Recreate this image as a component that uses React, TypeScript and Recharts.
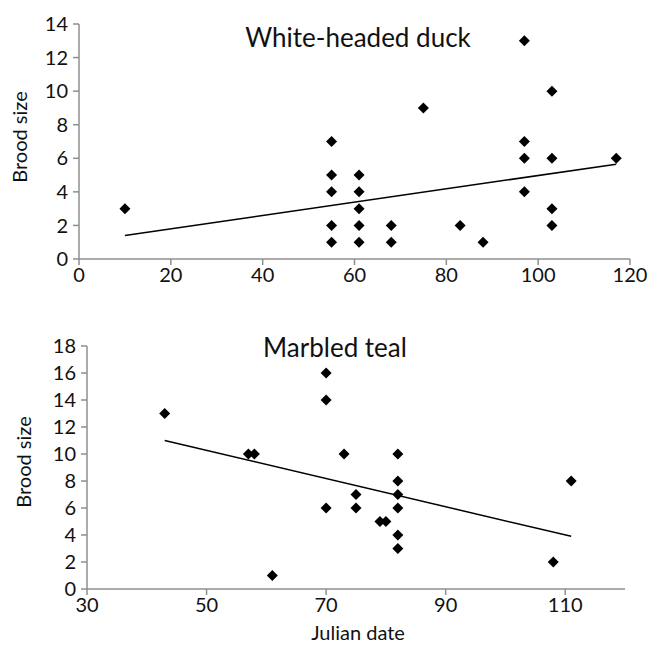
import { ScatterChart, Scatter, XAxis, YAxis } from "recharts";

// White-headed duck: julian date vs brood size
const duckDates = [10, 55, 55, 55, 55, 55, 61, 61, 61, 61, 61, 68, 68, 75, 83, 88, 97, 97, 97, 97, 103, 103, 103, 103, 117];
const duckBrood = [3, 7, 5, 4, 2, 1, 5, 4, 3, 2, 1, 2, 1, 9, 2, 1, 13, 7, 6, 4, 10, 6, 3, 2, 6];
const duckTrendX = [10, 117];
const duckTrendY = [1.4, 5.65];
const duckXTicks = [0, 20, 40, 60, 80, 100, 120];
const duckYTicks = [0, 2, 4, 6, 8, 10, 12, 14];

// Marbled teal
const tealDates = [43, 57, 58, 61, 70, 70, 70, 73, 75, 75, 79, 80, 82, 82, 82, 82, 82, 82, 108, 111];
const tealBrood = [13, 10, 10, 1, 16, 14, 6, 10, 7, 6, 5, 5, 10, 8, 7, 6, 4, 3, 2, 8];
const tealTrendX = [43, 111];
const tealTrendY = [11, 3.9];
const tealXTicks = [30, 50, 70, 90, 110];
const tealYTicks = [0, 2, 4, 6, 8, 10, 12, 14, 16, 18];

const FONT = "Lato, 'Open Sans', sans-serif";
const AXIS = "#8f8f8f";

const zip = (xs: number[], ys: number[]) => xs.map((x, i) => ({ x, y: ys[i] }));

const Diamond = (props: any) => {
  const { cx, cy } = props;
  const r = 5.5;
  return <path d={`M${cx},${cy - r}L${cx + r},${cy}L${cx},${cy + r}L${cx - r},${cy}Z`} fill="#000" />;
};

const NoDot = () => <g />;

const tick = { fill: "#111", fontSize: 20, fontFamily: FONT };
const axisLine = { stroke: AXIS, strokeWidth: 1.5 };

export default function App() {
  return (
    <div style={{ position: "absolute", left: 0, top: 0, width: 649, height: 649, background: "#fff", fontFamily: FONT }}>
      <div style={{ position: "absolute", left: 0, top: 0 }}>
        <ScatterChart width={649} height={300} margin={{ top: 24, right: 19, bottom: 11, left: 0 }}>
          <XAxis
            type="number"
            dataKey="x"
            domain={[0, 120]}
            ticks={duckXTicks}
            interval={0}
            height={30}
            tick={tick}
            axisLine={axisLine}
            tickLine={axisLine}
            tickSize={6}
            tickMargin={3}
          />
          <YAxis
            type="number"
            dataKey="y"
            domain={[0, 14]}
            ticks={duckYTicks}
            interval={0}
            width={79}
            tick={tick}
            axisLine={axisLine}
            tickLine={axisLine}
            tickSize={6}
            tickMargin={5}
          />
          <Scatter data={zip(duckTrendX, duckTrendY)} line={{ stroke: "#000", strokeWidth: 1.5 }} shape={NoDot} isAnimationActive={false} />
          <Scatter data={zip(duckDates, duckBrood)} shape={Diamond} isAnimationActive={false} />
        </ScatterChart>
      </div>

      <div style={{ position: "absolute", left: 0, top: 300 }}>
        <ScatterChart width={649} height={349} margin={{ top: 46, right: 24, bottom: 30, left: 0 }}>
          <XAxis
            type="number"
            dataKey="x"
            domain={[30, 120]}
            ticks={tealXTicks}
            interval={0}
            height={30}
            tick={tick}
            axisLine={axisLine}
            tickLine={axisLine}
            tickSize={6}
            tickMargin={3}
          />
          <YAxis
            type="number"
            dataKey="y"
            domain={[0, 18]}
            ticks={tealYTicks}
            interval={0}
            width={87}
            tick={tick}
            axisLine={axisLine}
            tickLine={axisLine}
            tickSize={6}
            tickMargin={5}
          />
          <Scatter data={zip(tealTrendX, tealTrendY)} line={{ stroke: "#000", strokeWidth: 1.5 }} shape={NoDot} isAnimationActive={false} />
          <Scatter data={zip(tealDates, tealBrood)} shape={Diamond} isAnimationActive={false} />
        </ScatterChart>
      </div>

      <div style={{ position: "absolute", left: 358, top: 37, transform: "translate(-50%, -50%)", fontSize: 26, whiteSpace: "nowrap", color: "#111" }}>
        White-headed duck
      </div>
      <div style={{ position: "absolute", left: 335, top: 347, transform: "translate(-50%, -50%)", fontSize: 26, whiteSpace: "nowrap", color: "#111" }}>
        Marbled teal
      </div>
      <div style={{ position: "absolute", left: 19, top: 137, transform: "translate(-50%, -50%) rotate(-90deg)", fontSize: 20, whiteSpace: "nowrap", color: "#111" }}>
        Brood size
      </div>
      <div style={{ position: "absolute", left: 23, top: 462, transform: "translate(-50%, -50%) rotate(-90deg)", fontSize: 20, whiteSpace: "nowrap", color: "#111" }}>
        Brood size
      </div>
      <div style={{ position: "absolute", left: 358, top: 632, transform: "translate(-50%, -50%)", fontSize: 20, whiteSpace: "nowrap", color: "#111" }}>
        Julian date
      </div>
    </div>
  );
}
